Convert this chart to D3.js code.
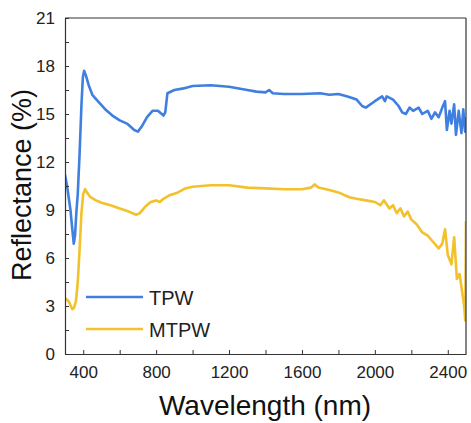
<!DOCTYPE html>
<html>
<head>
<meta charset="utf-8">
<script src="https://cdn.jsdelivr.net/npm/d3@7"></script>
<style>
  body { margin: 0; background: #fff; }
  svg { font-family: "Liberation Sans", Arial, sans-serif; }
</style>
</head>
<body>
<div id="chart"></div>
<script>
// TPW spectrum (wavelength nm, reflectance %)
var tpwWave = [300,310,320,330,340,348,355,362,370,380,390,398,405,415,430,450,480,520,560,600,640,680,700,720,750,780,810,840,850,862,900,950,1000,1100,1200,1300,1350,1400,1420,1440,1500,1600,1700,1750,1800,1850,1900,1930,1950,2000,2040,2055,2065,2100,2130,2150,2170,2190,2210,2240,2260,2290,2310,2330,2350,2370,2385,2395,2410,2420,2435,2445,2460,2475,2485,2495,2500];
var tpwR = [11.2,10.6,9.8,9.0,7.8,6.9,7.4,8.8,10.0,12.5,15.5,17.3,17.7,17.4,16.8,16.2,15.8,15.3,14.9,14.6,14.4,14.0,13.9,14.2,14.8,15.2,15.2,14.9,15.1,16.3,16.5,16.6,16.75,16.8,16.7,16.5,16.4,16.35,16.5,16.3,16.25,16.25,16.3,16.2,16.25,16.1,15.9,15.5,15.4,15.8,16.1,15.8,16.1,15.9,15.5,15.1,15.0,15.4,15.2,15.4,15.0,15.2,14.7,15.1,14.8,15.4,15.8,14.0,15.2,14.4,15.6,13.7,15.2,13.8,15.3,13.9,14.8];

// MTPW spectrum
var mtpwWave = [300,320,340,350,360,370,380,390,400,410,420,440,470,500,550,600,650,690,710,740,770,800,820,840,870,920,960,1000,1100,1200,1300,1400,1500,1600,1650,1670,1690,1750,1800,1860,1900,1950,2000,2030,2050,2080,2100,2120,2140,2160,2180,2200,2230,2260,2290,2320,2350,2370,2385,2400,2420,2435,2450,2465,2480,2490,2496,2500];
var mtpwR = [3.5,3.3,2.8,2.9,3.3,4.5,6.5,8.8,10.0,10.3,10.1,9.8,9.6,9.45,9.3,9.1,8.9,8.7,8.8,9.2,9.5,9.6,9.5,9.7,9.9,10.1,10.35,10.45,10.55,10.55,10.4,10.35,10.3,10.3,10.4,10.6,10.4,10.25,10.1,9.8,9.7,9.6,9.5,9.3,9.6,9.1,9.3,8.8,9.1,8.6,8.9,8.4,8.1,7.6,7.4,7.0,6.6,6.9,7.8,6.2,5.6,7.3,4.7,5.0,3.8,3.0,2.1,8.3];

var seriesNames = ["TPW", "MTPW"];
var xTicks = [400, 800, 1200, 1600, 2000, 2400];
var yTicks = [0, 3, 6, 9, 12, 15, 18, 21];

var colors = ["#3f7fe0", "#f2c12b"];

var width = 471, height = 423;
var margin = {top: 18, right: 5, bottom: 69, left: 65};
var gw = width - margin.left - margin.right,
    gh = height - margin.top - margin.bottom;

var svg = d3.select("#chart").append("svg")
  .attr("width", width)
  .attr("height", height);

var g = svg.append("g")
  .attr("transform", "translate(" + margin.left + "," + margin.top + ")");

var x = d3.scaleLinear().domain([300, 2500]).range([0, gw]);
var y = d3.scaleLinear().domain([0, 21]).range([gh, 0]);

var line = d3.line()
  .x(function(d) { return x(d[0]); })
  .y(function(d) { return y(d[1]); });

var series = [
  d3.zip(tpwWave, tpwR),
  d3.zip(mtpwWave, mtpwR)
];

g.append("clipPath").attr("id", "clip")
  .append("rect").attr("width", gw).attr("height", gh);

g.selectAll("path.spec")
  .data(series).enter()
  .append("path")
  .attr("class", "spec")
  .attr("clip-path", "url(#clip)")
  .attr("d", line)
  .style("fill", "none")
  .style("stroke", function(d, i) { return colors[i]; })
  .style("stroke-width", 2.6)
  .style("stroke-linejoin", "round");

// axes with inward ticks, minor ticks unlabelled
var xMinor = d3.range(400, 2500, 200);
var yMinor = d3.range(0, 21.01, 1.5);

var xAxis = g.append("g")
  .attr("transform", "translate(0," + gh + ")")
  .call(d3.axisBottom(x).tickValues(xMinor).tickSizeInner(-4).tickSizeOuter(0)
    .tickFormat(function(d) { return xTicks.indexOf(d) >= 0 ? d : ""; }).tickPadding(12));

var yAxis = g.append("g")
  .call(d3.axisLeft(y).tickValues(yMinor).tickSizeInner(-4).tickSizeOuter(0)
    .tickFormat(function(d) { return yTicks.indexOf(d) >= 0 ? d : ""; }).tickPadding(10));

[xAxis, yAxis].forEach(function(a) {
  a.select(".domain").style("stroke", "#333").style("stroke-width", 1.2);
  a.selectAll(".tick line").style("stroke", "#333");
  a.selectAll(".tick text").style("font-size", "17px").style("fill", "#222");
});

// top and right border
g.append("line").attr("x1", 0).attr("x2", gw).attr("y1", 0).attr("y2", 0)
  .style("stroke", "#333").style("stroke-width", 1.2);
g.append("line").attr("x1", gw).attr("x2", gw).attr("y1", 0).attr("y2", gh)
  .style("stroke", "#333").style("stroke-width", 1.2);

// titles
svg.append("text")
  .attr("x", 265)
  .attr("y", 415)
  .style("text-anchor", "middle")
  .style("font-size", "28px")
  .style("fill", "#111")
  .text("Wavelength (nm)");

svg.append("text")
  .attr("transform", "translate(31,185) rotate(-90)")
  .style("text-anchor", "middle")
  .style("font-size", "27px")
  .style("fill", "#111")
  .text("Reflectance (%)");

// legend
var legend = g.append("g")
  .attr("transform", "translate(21," + (297 - margin.top) + ")");

var li = legend.selectAll("g")
  .data(seriesNames).enter()
  .append("g")
  .attr("transform", function(d, i) { return "translate(0," + i * 32 + ")"; });

li.append("line")
  .attr("x1", 0).attr("x2", 57)
  .style("stroke", function(d, i) { return colors[i]; })
  .style("stroke-width", 2.6);

li.append("text")
  .attr("x", 63)
  .attr("y", 7.5)
  .style("font-size", "20px")
  .style("fill", "#222")
  .text(function(d) { return d; });
</script>
</body>
</html>
